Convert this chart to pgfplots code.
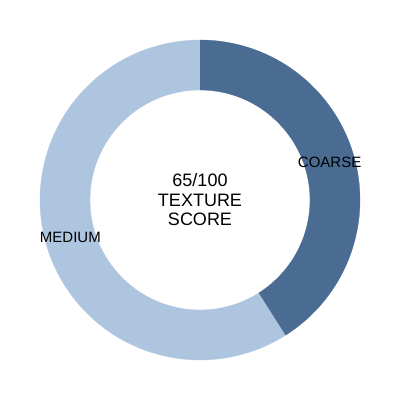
\documentclass[border=0pt]{standalone}
\usepackage{pgfplots}
\pgfplotsset{compat=1.18}
\usepackage{pgfplotstable}
\usepackage{fontspec}
\setmainfont{Liberation Sans}
\definecolor{coarse}{RGB}{74,107,146}
\definecolor{medium}{RGB}{174,197,224}
\pgfplotstableread{
label value
COARSE 41
MEDIUM 59
}\data
\pgfplotstablegetelem{0}{value}\of\data \let\vA\pgfplotsretval
\pgfplotstablegetelem{1}{value}\of\data \let\vB\pgfplotsretval
\pgfmathsetmacro\aS{90}
\pgfmathsetmacro\aM{90-\vA/(\vA+\vB)*360}
\pgfmathsetmacro\aE{-270}
\pgfmathsetmacro\mA{(\aS+\aM)/2}
\pgfmathsetmacro\mB{(\aM+\aE)/2}
% ring segment from angle #1 to #2
\newcommand\ring[3]{%
\addplot[fill=#3, draw=#3, line width=0.3pt, domain=0:201, samples=202, variable=\t]
 ({ (\t<100.5 ? 160 : 110) * cos( \t<100.5 ? #1+(#2-#1)*min(\t,100)/100 : #2+(#1-#2)*max(0,min(1,(\t-101)/100)) ) },
  { (\t<100.5 ? 160 : 110) * sin( \t<100.5 ? #1+(#2-#1)*min(\t,100)/100 : #2+(#1-#2)*max(0,min(1,(\t-101)/100)) ) });
}
\begin{document}
\begin{tikzpicture}
\begin{axis}[x=1pt, y=1pt, xmin=-200, xmax=200, ymin=-200, ymax=200,
  hide axis, clip=false]
\path (axis cs:-200,-200) rectangle (axis cs:200,200);
\ring{\aM}{\aE}{medium}
\ring{\aS}{\aM}{coarse}
\node[font=\fontsize{15}{18}\selectfont] at (axis cs:{135*cos(\mA)},{135*sin(\mA)}) {COARSE};
\node[font=\fontsize{15}{18}\selectfont] at (axis cs:{135*cos(\mB)},{135*sin(\mB)}) {MEDIUM};
\node[align=center, font=\fontsize{18}{19.5}\selectfont] at (axis cs:0,0) {65/100\\TEXTURE\\SCORE};
\end{axis}
\end{tikzpicture}
\end{document}
